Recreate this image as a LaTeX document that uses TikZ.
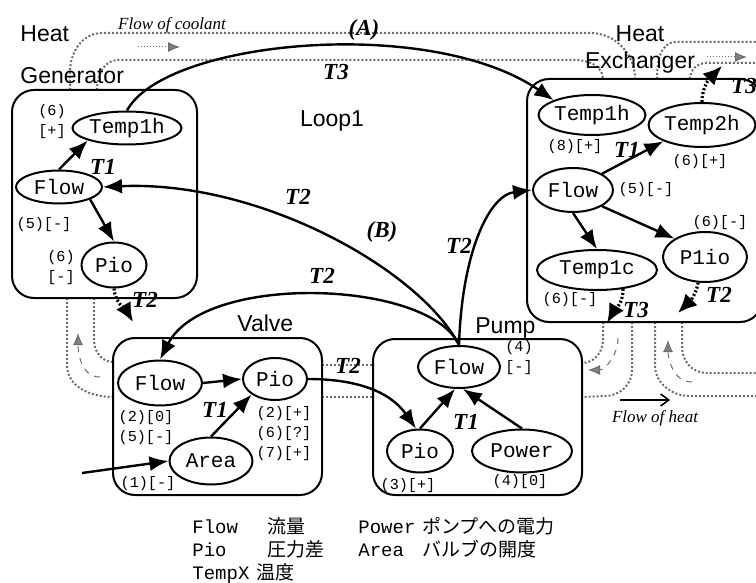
\documentclass[tikz,border=0pt]{standalone}
\usepackage{fontspec}
\setmainfont{Liberation Serif}
\setsansfont{Liberation Sans}
\setmonofont{Liberation Mono}
\newfontfamily\jpfont{Noto Sans CJK JP}
\usetikzlibrary{shapes.geometric,arrows.meta}
\tikzset{
    block/.style = {draw, rectangle, rounded corners=11pt, line width=1pt, inner sep=0pt},
    var/.style = {draw, ellipse, line width=1pt, inner sep=0pt,
        font=\ttfamily\fontsize{10.5}{12}\selectfont},
    sgn/.style = {inner sep=0pt, align=center, font=\ttfamily\fontsize{7.6}{10}\selectfont},
    tlab/.style = {inner sep=0pt, font=\bfseries\itshape\fontsize{11.5}{13}\selectfont},
    unitname/.style = {inner sep=0pt, font=\sffamily\fontsize{11.5}{14}\selectfont},
    arrow/.style = {draw, -{Latex[length=9.5pt,width=7.5pt]}, line width=1.2pt},
    darrow/.style = {draw, -{Latex[length=9.5pt,width=8.5pt]}, line width=1.6pt, dash pattern=on 1pt off 1pt},
    pipe/.style = {draw=gray!85!black, line width=1pt, densely dotted},
    cool/.style = {draw=gray!85!black, line width=0.5pt, dashed, -{Latex[length=6pt,width=5pt,fill=gray]}},
    flownote/.style = {inner sep=0pt, font=\itshape\fontsize{8.5}{10}\selectfont},
    legendtext/.style = {anchor=base west, inner sep=0pt, font=\ttfamily\fontsize{9.5}{11}\selectfont}
}

\begin{document}
\begin{tikzpicture}[x=0.5pt, y=-0.5pt]
    \useasboundingbox (0,0) rectangle (756,583);

    % coolant pipes
    \draw[pipe] (70,90) -- (70,72) to[out=90,in=180] (102,33) -- (590,33) to[out=0,in=90] (635,79);
    \draw[pipe] (97,90) to[out=90,in=180] (118,60) -- (575,60) to[out=0,in=90] (603,79);
    \draw[pipe] (657,79) to[out=90,in=180] (676,42) -- (756,42);
    \draw[pipe] (690,79) to[out=90,in=180] (706,63) -- (756,63);
    \draw[pipe] (67,298) -- (67,365) to[out=-90,in=180] (113,397);
    \draw[pipe] (94,298) -- (94,340) to[out=-90,in=180] (113,362);
    \draw[pipe] (322,365) -- (373,365);
    \draw[pipe] (322,397) -- (373,397);
    \draw[pipe] (603,322) -- (603,340) to[out=-90,in=0] (582,363);
    \draw[pipe] (632,322) -- (632,370) to[out=-90,in=0] (605,396) -- (582,397);
    \draw[pipe] (655,322) -- (655,365) to[out=-90,in=180] (690,396) -- (756,396);
    \draw[pipe] (682,322) -- (682,347) to[out=-90,in=180] (706,373) -- (756,373);
    \draw[cool, densely dotted] (138,47) -- (180,47);
    \draw[cool, densely dotted] (707,57) -- (747,57);
    \draw[cool] (100,377) to[out=180,in=-90] (78,333);
    \draw[cool] (618,338) to[out=-90,in=0] (588,370);
    \draw[cool] (692,382) to[out=180,in=-90] (668,340);
    \node[flownote] (coolnote) at (172,25) {Flow of coolant};

    % units
    \node[block, minimum width=92.5pt, minimum height=104pt] (hg) at (104.5,194) {};
    \node[block, minimum width=104.5pt, minimum height=78.5pt] (valve) at (217.5,416.5) {};
    \node[block, minimum width=104.5pt, minimum height=78pt] (pump) at (477.5,417) {};
    \node[block, minimum width=117.5pt, minimum height=121.5pt] (hx) at (644.5,200.5) {};
    \node[unitname, anchor=north west, align=left, font=\sffamily\fontsize{11.5}{21}\selectfont] (hgname) at (20,25) {Heat\\Generator};
    \node[unitname, anchor=north, align=center, font=\sffamily\fontsize{11.5}{13.5}\selectfont] (hxname) at (640,25) {Heat\\Exchanger};
    \node[unitname, anchor=base west] (vname) at (237,331) {Valve};
    \node[unitname, anchor=base west] (pname) at (475,333) {Pump};
    \node[unitname] (loop) at (332,121) {Loop1};

    % heat generator
    \node[var, minimum width=54.5pt, minimum height=16.5pt] (hgT) at (127,128) {Temp1h};
    \node[var, minimum width=43pt, minimum height=16.5pt] (hgF) at (59,187) {Flow};
    \node[var, minimum width=32.5pt, minimum height=22.5pt] (hgP) at (114,265) {Pio};
    \node[sgn] (hgTs) at (52,122) {(6)\\{[+]}};
    \node[sgn] (hgFs) at (44,225) {(5)[-]};
    \node[sgn] (hgPs) at (61,268) {(6)\\{[-]}};
    \draw[arrow] (hgF.north) -- (hgT.south west);
    \draw[arrow] (hgF.south east) -- (hgP.north);
    \node[tlab] (hgt1) at (103,167) {T1};
    \coordinate (hgout) at (133,322);
    \draw[darrow] (hgP.south) to[out=-85,in=120] (hgout);
    \node[tlab] (hgt2) at (145,300) {T2};

    % valve
    \node[var, minimum width=42pt, minimum height=22.5pt] (vF) at (160,383) {Flow};
    \node[var, minimum width=32pt, minimum height=21pt] (vP) at (275,379) {Pio};
    \node[var, minimum width=41.5pt, minimum height=23.5pt] (vA) at (211,461) {Area};
    \node[sgn, align=left] (vFs) at (146,428) {(2)[0]\\(5)[-]};
    \node[sgn, align=left] (vPs) at (284,434) {(2)[+]\\(6)[?]\\(7)[+]};
    \node[sgn] (vAs) at (148,484) {(1)[-]};
    \coordinate (vin) at (82,473);
    \draw[arrow] (vin) -- (vA.west);
    \draw[arrow] (vF.east) -- (vP.west);
    \draw[arrow] (vA.north) -- (vP.south west);
    \node[tlab] (vt1) at (215,410) {T1};

    % pump
    \node[var, minimum width=41pt, minimum height=21pt] (pF) at (459,367) {Flow};
    \node[var, minimum width=33pt, minimum height=21.5pt] (pP) at (420,451) {Pio};
    \node[var, minimum width=50pt, minimum height=21.5pt] (pW) at (522,451) {Power};
    \node[sgn] (pFs) at (519,358) {(4)\\{[-]}};
    \node[sgn] (pPs) at (408,486) {(3)[+]};
    \node[sgn] (pWs) at (520,482) {(4)[0]};
    \draw[arrow] (vP.east) to[out=0,in=125] (pP.100);
    \draw[arrow] (pP.north) -- (pF.-100);
    \draw[arrow] (pW.north) -- (pF.-80);
    \node[tlab] (pt1) at (466,422) {T1};
    \node[tlab] (vpt2) at (348,366) {T2};

    % heat exchanger
    \node[var, minimum width=52.5pt, minimum height=20pt] (xT1) at (592,115) {Temp1h};
    \node[var, minimum width=52.5pt, minimum height=22pt] (xT2) at (702,125) {Temp2h};
    \node[var, minimum width=40pt, minimum height=22pt] (xF) at (573,190) {Flow};
    \node[var, minimum width=60pt, minimum height=20pt] (xC) at (597,270) {Temp1c};
    \node[var, minimum width=42pt, minimum height=25pt] (xP) at (705,257) {P1io};
    \node[sgn] (xT1s) at (575,147) {(8)[+]};
    \node[sgn] (xT2s) at (700,162) {(6)[+]};
    \node[sgn] (xFs) at (646,190) {(5)[-]};
    \node[sgn] (xCs) at (570,300) {(6)[-]};
    \node[sgn] (xPs) at (720,223) {(6)[-]};
    \draw[arrow] (xF.north east) -- (xT2.south west);
    \draw[arrow] (xF.south) -- (xC.north);
    \draw[arrow] (xF.south east) -- (xP.north west);
    \node[tlab] (xt1) at (627,150) {T1};
    \coordinate (x2out) at (722,66);
    \draw[darrow] (xT2.north) to[out=90,in=-135] (x2out);
    \node[tlab] (xt3a) at (744,86) {T3};
    \coordinate (xcout) at (607,323);
    \draw[darrow] (xC.-36) to[out=-90,in=60] (xcout);
    \node[tlab] (xt3b) at (636,310) {T3};
    \coordinate (xpout) at (678,313);
    \draw[darrow] (xP.-105) to[out=-100,in=45] (xpout);
    \node[tlab] (xt2) at (719,295) {T2};

    % loop connections
    \draw[arrow] (hgT.north) .. controls (165,40) and (430,15) .. (xT1.north west);
    \node[tlab] (la) at (364,30) {(A)};
    \node[tlab] (lat3) at (336,72) {T3};
    \draw[arrow] (pF.north) .. controls (420,270) and (260,180) .. (hgF.east);
    \node[tlab] (lb) at (382,232) {(B)};
    \node[tlab] (lbt2) at (298,197) {T2};
    \draw[arrow] (pF.north) .. controls (430,280) and (205,272) .. (vF.north);
    \node[tlab] (pvt2) at (322,276) {T2};
    \draw[arrow] (pF.north) .. controls (462,250) and (490,195) .. (xF.west);
    \node[tlab] (pxt2) at (459,246) {T2};

    % flow of heat
    \coordinate (heatA) at (620,400);
    \coordinate (heatB) at (670,400);
    \draw[-{Straight Barb[length=4pt,width=6pt]}, line width=0.8pt] (heatA) -- (heatB);
    \node[flownote] (heatnote) at (655,418) {Flow of heat};

    % legend
    \node[legendtext] (k1) at (192,533) {Flow};
    \node[legendtext] (j1) at (267,533) {\jpfont 流量};
    \node[legendtext] (k2) at (358,533) {Power};
    \node[legendtext] (j2) at (422,533) {\jpfont ポンプへの電力};
    \node[legendtext] (k3) at (192,556) {Pio};
    \node[legendtext] (j3) at (267,556) {\jpfont 圧力差};
    \node[legendtext] (k4) at (358,556) {Area};
    \node[legendtext] (j4) at (422,556) {\jpfont バルブの開度};
    \node[legendtext] (k5) at (192,579) {TempX};
    \node[legendtext] (j5) at (256,579) {\jpfont 温度};
\end{tikzpicture}
\end{document}
